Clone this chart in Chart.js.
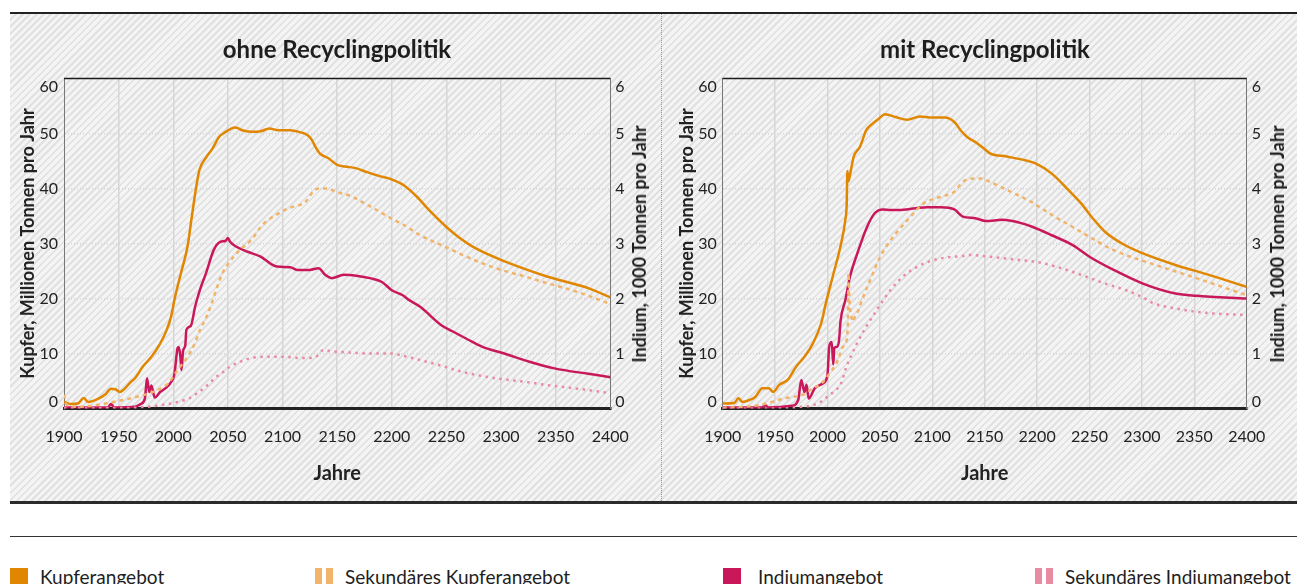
<!DOCTYPE html>
<html>
<head>
<meta charset="utf-8">
<script src="https://cdn.jsdelivr.net/npm/chart.js@4.4.1/dist/chart.umd.min.js"></script>
<style>
  body { margin: 0; width: 1307px; height: 584px; overflow: hidden; background: #fff; font-family: Lato, sans-serif; color: #1e1e1e; }
  .panel { position: absolute; left: 10px; top: 14px; width: 1287px; height: 488px;
    background: repeating-linear-gradient(135deg, #f4f4f4 0px, #f4f4f4 3px, #e1e1e1 3px, #e1e1e1 5px); }
  .line { position: absolute; left: 10px; width: 1287px; }
  .divider { position: absolute; left: 661px; top: 14px; height: 487px; border-left: 1px dotted #9a9a9a; }
  canvas { position: absolute; }
  .ptitle { position: absolute; top: 48px; transform: translate(-50%, -50%); font-weight: 700; font-size: 24px; white-space: nowrap; }
  .ytitle { position: absolute; top: 243.5px; transform: translate(-50%, -50%) rotate(-90deg); font-weight: 700; font-size: 18px; white-space: nowrap; }
  .legend-item { position: absolute; top: 565px; font-size: 19px; white-space: nowrap; }
  .sw { position: absolute; top: 3px; width: 18px; height: 18px; }
  .bars { position: absolute; top: 3px; width: 7px; height: 18px; }
</style>
</head>
<body>
<div class="panel"></div>
<div class="line" style="top:12px;height:2px;background:#222"></div>
<div class="line" style="top:501px;height:3px;background:#2b2b2b"></div>
<div class="line" style="top:535.5px;height:1px;background:#333"></div>
<div class="divider"></div>

<canvas id="ohne" width="652" height="488" style="left:10px;top:14px"></canvas>
<canvas id="mit" width="635" height="488" style="left:662px;top:14px"></canvas>

<div class="ptitle" style="left:337px">ohne Recyclingpolitik</div>
<div class="ptitle" style="left:985px">mit Recyclingpolitik</div>
<div class="ytitle" style="left:639px">Indium, 1000 Tonnen pro Jahr</div>
<div class="ytitle" style="left:1277px">Indium, 1000 Tonnen pro Jahr</div>

<div class="legend-item" style="left:10px"><span class="sw" style="left:0;background:#e08600"></span><span style="margin-left:30px">Kupferangebot</span></div>
<div class="legend-item" style="left:315px"><span class="bars" style="left:0;background:#f0b46c"></span><span class="bars" style="left:10.5px;background:#f0b46c"></span><span style="margin-left:30px">Sekundäres Kupferangebot</span></div>
<div class="legend-item" style="left:723px"><span class="sw" style="left:0;background:#c8185a"></span><span style="margin-left:35px">Indiumangebot</span></div>
<div class="legend-item" style="left:1035px"><span class="bars" style="left:0;background:#e98ba3"></span><span class="bars" style="left:10.5px;background:#e98ba3"></span><span style="margin-left:30px">Sekundäres Indiumangebot</span></div>

<script>
const jahrTicks = [1900, 1950, 2000, 2050, 2100, 2150, 2200, 2250, 2300, 2350, 2400];
const kupferTicks = [0, 10, 20, 30, 40, 50, 60];
const indiumTicks = [0, 1, 2, 3, 4, 5, 6];

// ohne Recyclingpolitik (Kupfer in Mio. t, Indium in 1000 t)
const ohneKupferJahre = [1900, 1907, 1913, 1918, 1922, 1932, 1938, 1943, 1947, 1951, 1955, 1961, 1965, 1972, 1980, 1988, 1994, 1998, 2001, 2007, 2013, 2017, 2021, 2024, 2030, 2036, 2042, 2048, 2053, 2057, 2063, 2073, 2080, 2088, 2096, 2107, 2115, 2123, 2127, 2130, 2134, 2142, 2150, 2157, 2167, 2177, 2188, 2198, 2211, 2223, 2234, 2250, 2261, 2277, 2304, 2342, 2381, 2400];
const ohneKupfer = [1.2, 0.8, 0.95, 1.9, 1.2, 1.85, 2.6, 3.6, 3.5, 3.0, 3.5, 4.8, 5.5, 7.6, 9.4, 11.8, 14.3, 16.7, 19.7, 24.6, 29.4, 34.9, 40.3, 43.4, 45.6, 47.3, 49.4, 50.3, 50.9, 51.1, 50.6, 50.3, 50.4, 50.9, 50.6, 50.6, 50.3, 49.7, 48.8, 47.6, 46.4, 45.5, 44.3, 44.0, 43.7, 43.0, 42.3, 41.8, 40.6, 38.5, 36.1, 33.0, 31.2, 29.1, 26.7, 24.0, 21.8, 20.2];

const ohneSekKupferJahre = [1900, 1902, 1910, 1920, 1935, 1950, 1960, 1970, 1980, 1990, 1995, 2000, 2005, 2010, 2015, 2020, 2025, 2030, 2035, 2040, 2045, 2050, 2056, 2062, 2072, 2080, 2087, 2095, 2103, 2110, 2118, 2123, 2128, 2135, 2140, 2149, 2164, 2175, 2187, 2200, 2210, 2226, 2249, 2265, 2283, 2300, 2322, 2340, 2360, 2380, 2400];
const ohneSekKupfer = [2.5, 0.8, 0.3, 0.4, 0.8, 1.4, 1.8, 2.3, 2.9, 3.8, 4.5, 5.8, 7.3, 8.5, 10.0, 12.0, 14.5, 16.5, 19.0, 22.0, 24.6, 26.2, 27.8, 29.0, 30.8, 33.0, 34.3, 35.3, 36.2, 36.7, 37.2, 38.0, 39.5, 40.0, 40.0, 39.4, 38.5, 37.3, 36.0, 34.5, 33.5, 31.5, 29.4, 27.9, 26.4, 25.2, 24.0, 22.9, 21.8, 20.5, 19.0];

const ohneIndiumJahre = [1900, 1940, 1943, 1946, 1965, 1970, 1974, 1976, 1978, 1980, 1983, 1988, 1993, 1998, 2001, 2004, 2005, 2006.5, 2007.5, 2009, 2011, 2012, 2016, 2020, 2022, 2026, 2030, 2037, 2043, 2048, 2050, 2052, 2057, 2068, 2080, 2090, 2095, 2107, 2114, 2125, 2133, 2139, 2145, 2156, 2166, 2180, 2191, 2200, 2210, 2216, 2226, 2245, 2256, 2270, 2283, 2303, 2326, 2349, 2380, 2400];
const ohneIndium = [0.02, 0.02, 0.08, 0.02, 0.03, 0.08, 0.18, 0.55, 0.3, 0.42, 0.2, 0.3, 0.37, 0.48, 0.62, 1.1, 1.12, 0.95, 0.7, 1.05, 1.15, 1.43, 1.5, 1.85, 2.0, 2.25, 2.46, 2.88, 3.03, 3.05, 3.1, 3.03, 2.95, 2.85, 2.76, 2.62, 2.58, 2.57, 2.52, 2.52, 2.55, 2.43, 2.37, 2.43, 2.42, 2.37, 2.3, 2.15, 2.06, 1.97, 1.85, 1.52, 1.4, 1.25, 1.12, 1.0, 0.85, 0.73, 0.63, 0.57];

const ohneSekIndiumJahre = [1900, 1960, 1975, 1988, 2000, 2008, 2015, 2022, 2030, 2038, 2046, 2052, 2058, 2070, 2085, 2100, 2115, 2125, 2132, 2137, 2145, 2160, 2180, 2199, 2212, 2226, 2245, 2264, 2280, 2295, 2320, 2341, 2370, 2400];
const ohneSekIndium = [0.01, 0.01, 0.03, 0.06, 0.1, 0.14, 0.19, 0.28, 0.4, 0.55, 0.67, 0.76, 0.82, 0.91, 0.94, 0.94, 0.92, 0.92, 0.96, 1.06, 1.04, 1.02, 1.0, 1.0, 0.95, 0.88, 0.78, 0.67, 0.6, 0.55, 0.49, 0.43, 0.36, 0.28];

// mit Recyclingpolitik
const mitKupferJahre = [1900, 1911, 1915, 1919, 1925, 1931, 1938, 1944, 1948, 1954, 1962, 1970, 1978, 1986, 1994, 1998, 2005, 2013, 2017, 2018.3, 2019, 2020, 2021.5, 2023, 2025, 2031, 2037, 2043, 2049, 2055, 2065, 2076, 2088, 2100, 2112, 2121, 2127, 2133, 2143, 2151, 2155, 2171, 2187, 2198, 2214, 2230, 2242, 2253, 2265, 2281, 2301, 2332, 2364, 2400];
const mitKupfer = [0.9, 1.0, 1.85, 1.2, 1.5, 2.1, 3.7, 3.7, 3.0, 4.3, 5.2, 7.6, 9.4, 11.8, 15.5, 18.8, 24.0, 30.0, 34.3, 37.0, 43.2, 41.3, 42.5, 44.0, 45.8, 47.6, 50.6, 51.8, 52.7, 53.5, 53.0, 52.5, 53.1, 52.9, 52.9, 52.1, 50.6, 49.4, 48.2, 47.0, 46.4, 45.8, 45.2, 44.6, 42.7, 39.7, 37.3, 34.6, 32.1, 30.0, 28.2, 26.1, 24.3, 22.1];

const mitSekKupferJahre = [1900, 1920, 1935, 1945, 1958, 1970, 1978, 1986, 1994, 2002, 2010, 2014, 2017, 2019.5, 2020, 2021, 2022.5, 2024.6, 2026.2, 2029.4, 2033, 2040.6, 2050, 2058, 2066, 2076, 2092, 2108, 2121, 2129, 2139, 2147, 2155, 2175, 2194, 2214, 2234, 2250, 2273, 2313, 2352, 2400];
const mitSekKupfer = [0.1, 0.3, 0.6, 1.1, 1.8, 2.2, 2.6, 3.7, 4.5, 6.4, 8.8, 11.0, 11.8, 15.5, 24.6, 19.5, 17.0, 15.8, 16.8, 17.8, 19.8, 23.3, 27.5, 30.0, 32.0, 34.2, 37.3, 38.5, 39.4, 41.2, 41.8, 41.8, 41.2, 39.4, 37.6, 35.2, 33.0, 31.2, 28.8, 26.1, 23.7, 20.6];

const mitIndiumJahre = [1900, 1938, 1940.5, 1943, 1966, 1972, 1975, 1978, 1980, 1982, 1988, 1996, 2000, 2001.6, 2004, 2005.5, 2006.5, 2009, 2011, 2012.5, 2017, 2021.5, 2029, 2037, 2045, 2053, 2060, 2068, 2084, 2095, 2108, 2121, 2129, 2141, 2151, 2167, 2183, 2196, 2214, 2234, 2250, 2273, 2301, 2332, 2352, 2400];
const mitIndium = [0.02, 0.02, 0.07, 0.02, 0.05, 0.15, 0.52, 0.3, 0.43, 0.18, 0.37, 0.46, 0.61, 1.12, 1.21, 0.8, 1.1, 1.12, 1.24, 1.6, 1.97, 2.4, 2.85, 3.27, 3.55, 3.62, 3.61, 3.61, 3.64, 3.66, 3.66, 3.62, 3.49, 3.46, 3.41, 3.43, 3.38, 3.3, 3.15, 2.97, 2.76, 2.52, 2.27, 2.09, 2.05, 2.0];

const mitSekIndiumJahre = [1900, 1958, 1975, 1986, 1995, 2002, 2008, 2013, 2018, 2023, 2028, 2037, 2047, 2060, 2072, 2085, 2095, 2108, 2128, 2135, 2155, 2183, 2198, 2218, 2242, 2265, 2285, 2301, 2310, 2332, 2360, 2400];
const mitSekIndium = [0.0, 0.0, 0.03, 0.06, 0.14, 0.25, 0.33, 0.46, 0.76, 0.98, 1.18, 1.49, 1.79, 2.15, 2.4, 2.57, 2.66, 2.73, 2.77, 2.79, 2.76, 2.7, 2.67, 2.58, 2.43, 2.27, 2.15, 2.02, 1.92, 1.82, 1.74, 1.7];

const farben = {
  kupfer: "#e08600",
  sekKupfer: "#f0b46c",
  indium: "#c8185a",
  sekIndium: "#e98ba3",
};

function punkte(jahre, werte) {
  return jahre.map((j, i) => ({ x: j, y: werte[i] }));
}

function linie(jahre, werte, farbe, achse, dash) {
  return {
    data: punkte(jahre, werte),
    yAxisID: achse,
    borderColor: farbe,
    borderWidth: 2.5,
    borderDash: dash || [],
    pointRadius: 0,
    fill: false,
    cubicInterpolationMode: "monotone",
  };
}

// y-Beschriftungen: oberste und unterste Zahl nach innen gerückt, schwarze Oberkante
const tickLabels = {
  id: "tickLabels",
  beforeDatasetsDraw(chart) {
    const ctx = chart.ctx;
    const area = chart.chartArea;
    ctx.save();
    ctx.strokeStyle = "#1a1a1a";
    ctx.lineWidth = 1.5;
    ctx.beginPath();
    ctx.moveTo(area.left, area.top);
    ctx.lineTo(area.right, area.top);
    ctx.stroke();
    ctx.restore();
  },
  afterDraw(chart) {
    const ctx = chart.ctx;
    const area = chart.chartArea;
    const y = chart.scales.y;
    const y1 = chart.scales.y1;
    ctx.save();
    ctx.font = "16px Lato";
    ctx.fillStyle = "#222";
    ctx.textBaseline = "middle";
    ctx.textAlign = "right";
    kupferTicks.forEach((v) => {
      let py = y.getPixelForValue(v);
      if (v === y.max) py += 8;
      if (v === y.min) py -= 7;
      ctx.fillText(String(v), area.left - 6, py);
    });
    ctx.textAlign = "left";
    indiumTicks.forEach((v) => {
      let py = y1.getPixelForValue(v);
      if (v === y1.max) py += 8;
      if (v === y1.min) py -= 7;
      ctx.fillText(String(v), area.right + 5, py);
    });
    ctx.restore();
  },
};

function DrawChart(canvasId, datasets, leftW, rightW) {
  new Chart(document.getElementById(canvasId), {
    type: "line",
    data: { datasets: datasets },
    plugins: [tickLabels],
    options: {
      responsive: false,
      animation: false,
      devicePixelRatio: 1,
      layout: { padding: { top: 64.5, left: 0, right: 0, bottom: 0 } },
      plugins: { legend: { display: false }, tooltip: { enabled: false } },
      scales: {
        x: {
          type: "linear",
          min: 1900,
          max: 2400,
          afterBuildTicks: (s) => { s.ticks = jahrTicks.map((v) => ({ value: v })); },
          afterFit: (s) => { s.height = 93.5; },
          ticks: {
            padding: 18.6,
            color: "#222",
            font: { family: "Lato", size: 16 },
            callback: (v) => String(v),
          },
          grid: {
            drawTicks: false,
            lineWidth: 1.5,
            color: (c) => (c.tick && (c.tick.value === 1900 || c.tick.value === 2400) ? "rgba(0,0,0,0)" : "#d6d6d6"),
          },
          border: { display: true, color: "#222", width: 3 },
          title: {
            display: true,
            text: "Jahre",
            color: "#222",
            font: { family: "Lato", size: 20, weight: "bold" },
            padding: { top: 0, bottom: 16.7 },
          },
        },
        y: {
          position: "left",
          min: 0,
          max: 60,
          afterBuildTicks: (s) => { s.ticks = kupferTicks.map((v) => ({ value: v })); },
          afterFit: (s) => { s.width = leftW; },
          ticks: { display: false },
          grid: {
            drawTicks: false,
            color: (c) => (c.tick && (c.tick.value === 0 || c.tick.value === 60) ? "rgba(0,0,0,0)" : "#d6d6d6"),
            lineWidth: 1.5,
          },
          border: { display: true, color: "#777", width: 1, dash: [1, 2] },
          title: {
            display: true,
            text: "Kupfer, Millionen Tonnen pro Jahr",
            color: "#222",
            font: { family: "Lato", size: 18, weight: "bold" },
            padding: { top: leftW - 46.8, bottom: 0 },
          },
        },
        y1: {
          position: "right",
          min: 0,
          max: 6,
          afterBuildTicks: (s) => { s.ticks = indiumTicks.map((v) => ({ value: v })); },
          afterFit: (s) => { s.width = rightW; },
          ticks: { display: false },
          grid: { display: false },
          border: { display: true, color: "#777", width: 1, dash: [1, 2] },
        },
      },
    },
  });
}

DrawChart("ohne", [
  linie(ohneSekIndiumJahre, ohneSekIndium, farben.sekIndium, "y1", [2.5, 4.5]),
  linie(ohneSekKupferJahre, ohneSekKupfer, farben.sekKupfer, "y", [4, 4]),
  linie(ohneIndiumJahre, ohneIndium, farben.indium, "y1"),
  linie(ohneKupferJahre, ohneKupfer, farben.kupfer, "y"),
], 54, 51.7);

DrawChart("mit", [
  linie(mitSekIndiumJahre, mitSekIndium, farben.sekIndium, "y1", [2.5, 4.5]),
  linie(mitSekKupferJahre, mitSekKupfer, farben.sekKupfer, "y", [4, 4]),
  linie(mitIndiumJahre, mitIndium, farben.indium, "y1"),
  linie(mitKupferJahre, mitKupfer, farben.kupfer, "y"),
], 60.7, 50.3);
</script>
</body>
</html>
